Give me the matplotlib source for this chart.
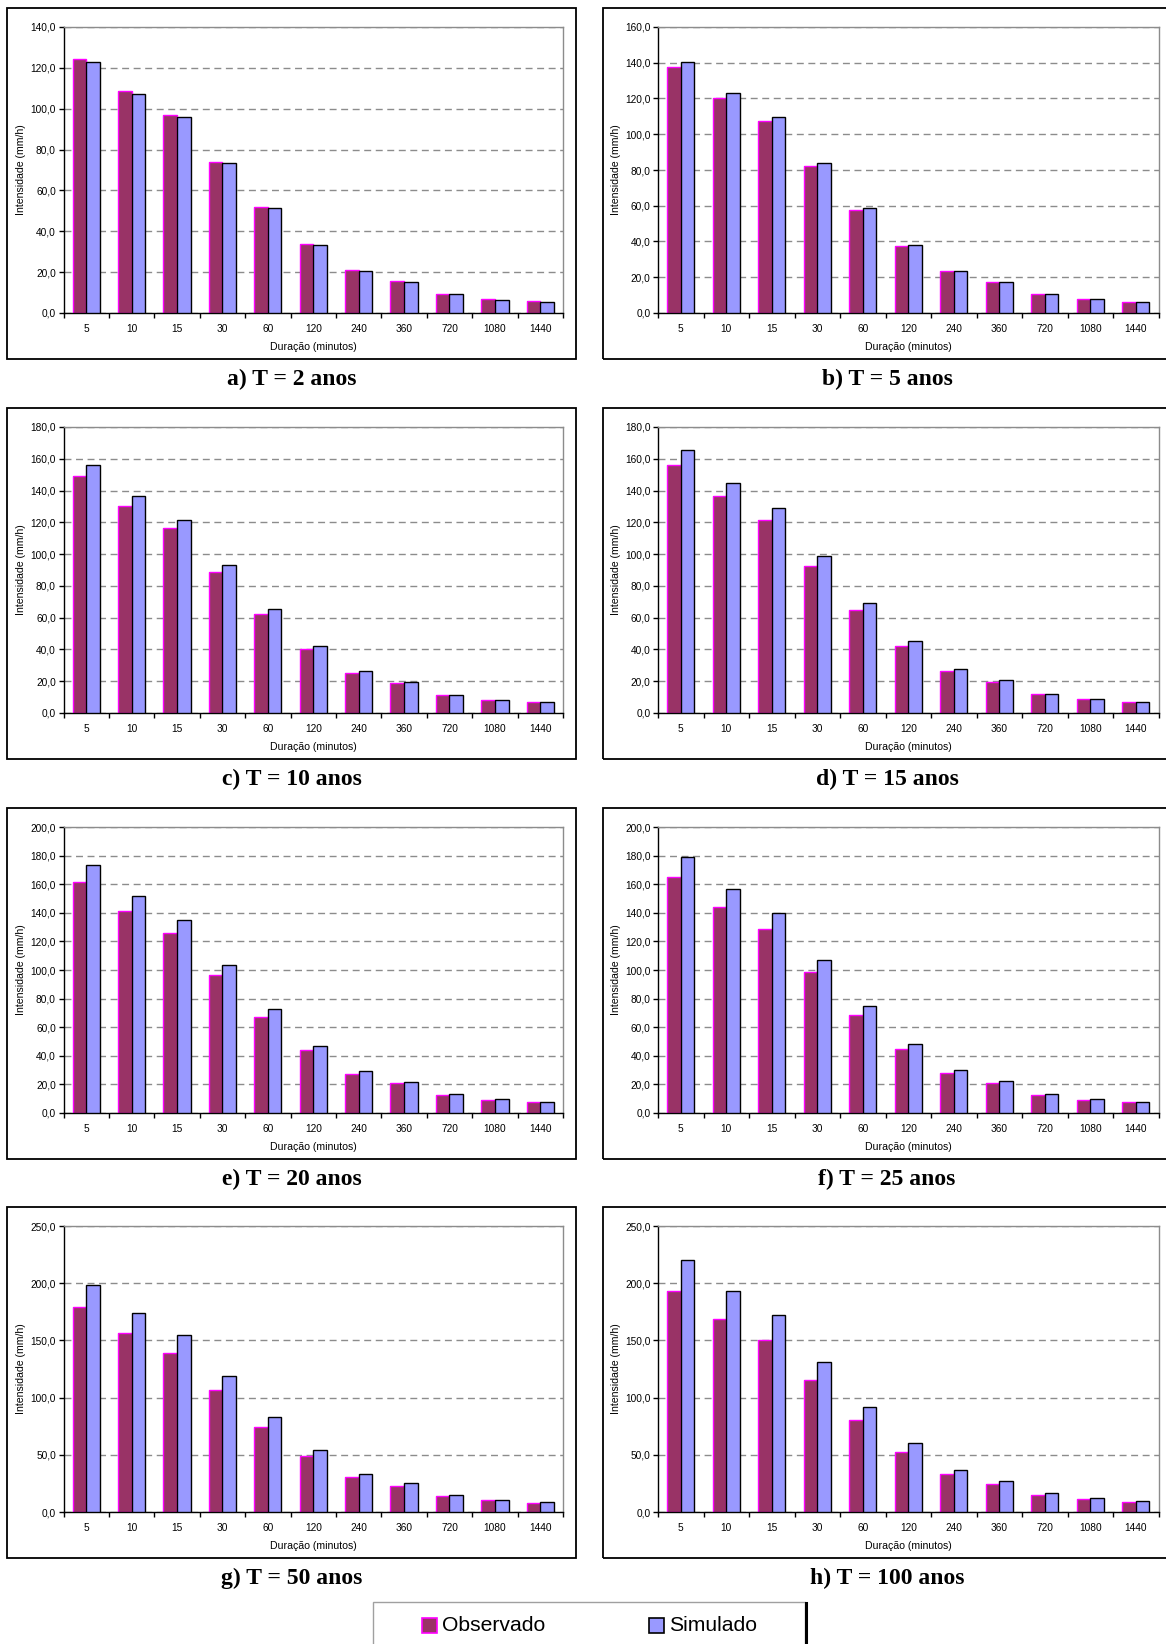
import matplotlib
matplotlib.use("Agg")
import matplotlib.pyplot as plt
from matplotlib.patches import Rectangle
from matplotlib.lines import Line2D
from matplotlib.ticker import FuncFormatter, MultipleLocator

# Intensidade-duração: observado x simulado para cada período de retorno
duracoes = ["5", "10", "15", "30", "60", "120", "240", "360", "720", "1080", "1440"]

obs_T2 = [124.5, 108.7, 96.8, 73.9, 51.9, 33.8, 21.0, 15.8, 9.5, 6.9, 5.7]
sim_T2 = [122.9, 107.4, 95.9, 73.4, 51.2, 33.3, 20.6, 15.3, 9.1, 6.5, 5.2]

obs_T5 = [137.7, 120.5, 107.3, 82.0, 57.4, 37.5, 23.4, 17.4, 10.6, 7.8, 6.3]
sim_T5 = [140.3, 122.9, 109.7, 83.9, 58.7, 38.1, 23.4, 17.4, 10.4, 7.6, 6.1]

obs_T10 = [148.9, 130.3, 116.2, 88.7, 62.3, 40.5, 25.4, 19.1, 11.5, 8.4, 6.9]
sim_T10 = [155.9, 136.6, 121.7, 93.4, 65.2, 42.2, 26.2, 19.5, 11.5, 8.4, 6.9]

obs_T15 = [156.1, 136.3, 121.4, 92.7, 64.9, 42.3, 26.4, 19.7, 11.9, 8.8, 6.9]
sim_T15 = [165.5, 145.0, 129.3, 99.0, 69.3, 45.0, 27.8, 20.5, 12.1, 8.8, 6.9]

obs_T20 = [161.6, 141.2, 125.8, 96.3, 67.4, 44.0, 27.4, 20.7, 12.6, 9.3, 7.4]
sim_T20 = [173.3, 151.4, 135.3, 103.5, 72.6, 47.2, 29.1, 21.6, 13.3, 9.5, 7.7]

obs_T25 = [165.2, 144.3, 128.8, 98.4, 68.7, 45.0, 28.1, 20.9, 12.5, 9.0, 7.7]
sim_T25 = [178.9, 156.6, 139.7, 106.7, 74.5, 48.5, 29.9, 22.3, 13.2, 9.5, 7.7]

obs_T50 = [178.9, 156.2, 139.4, 106.6, 74.3, 49.1, 30.8, 22.9, 13.9, 10.5, 8.1]
sim_T50 = [198.3, 173.6, 155.1, 118.8, 83.0, 54.0, 33.4, 25.0, 15.1, 10.7, 8.7]

obs_T100 = [193.2, 168.9, 150.3, 115.3, 80.8, 52.7, 33.0, 24.6, 15.1, 11.0, 9.0]
sim_T100 = [219.9, 192.9, 172.1, 131.5, 92.1, 60.0, 37.1, 27.5, 16.5, 12.2, 9.6]

titulos = ["a) T = 2 anos", "b) T = 5 anos", "c) T = 10 anos", "d) T = 15 anos",
           "e) T = 20 anos", "f) T = 25 anos", "g) T = 50 anos", "h) T = 100 anos"]
y_max = [140, 160, 180, 180, 200, 200, 250, 250]
y_passo = [20, 20, 20, 20, 20, 20, 50, 50]

series = [(obs_T2, sim_T2), (obs_T5, sim_T5), (obs_T10, sim_T10), (obs_T15, sim_T15),
          (obs_T20, sim_T20), (obs_T25, sim_T25), (obs_T50, sim_T50), (obs_T100, sim_T100)]

COR_OBS = "#993366"
BORDA_OBS = "#FF00FF"
COR_SIM = "#9999FF"
CINZA = "#8C8C8C"

W, H = 1166, 1644
fig = plt.figure(figsize=(W / 100, H / 100), dpi=100)
fig.patch.set_facecolor("white")
plt.rcParams["font.family"] = ["Liberation Sans", "DejaVu Sans"]


def caixa(x0, y0, x1, y1):
    # pixels (origem no topo) -> coordenadas da figura
    return [x0 / W, 1 - y1 / H, (x1 - x0) / W, (y1 - y0) / H]


def fmt_virgula(v, pos):
    return f"{v:.1f}".replace(".", ",")


col_x = [(63.5, 563), (658, 1158.5)]
col_frame = [(7, 576), (603, 1180)]
row_top = [27, 427, 827, 1226]
altura = 286

for k, (obs, sim) in enumerate(series):
    linha, col = divmod(k, 2)
    x0, x1 = col_x[col]
    y0 = row_top[linha]
    y1 = y0 + altura

    # moldura do gráfico
    fx0, fx1 = col_frame[col]
    fig.patches.append(Rectangle((fx0 / W, 1 - (y1 + 46) / H), (fx1 - fx0) / W,
                                 (altura + 65) / H, transform=fig.transFigure,
                                 fill=False, edgecolor="black", lw=1.3, zorder=0))

    ax = fig.add_axes(caixa(x0, y0, x1, y1))
    pos = list(range(len(duracoes)))
    ax.bar([p - 0.15 for p in pos], obs, width=0.3, color=COR_OBS,
           edgecolor=BORDA_OBS, linewidth=1.0, zorder=2)
    ax.bar([p + 0.15 for p in pos], sim, width=0.3, color=COR_SIM,
           edgecolor="black", linewidth=1.0, zorder=3)

    ax.set_xlim(-0.5, len(duracoes) - 0.5)
    ax.set_ylim(0, y_max[k])
    ax.yaxis.set_major_locator(MultipleLocator(y_passo[k]))
    ax.yaxis.set_major_formatter(FuncFormatter(fmt_virgula))
    ax.grid(axis="y", color=CINZA, linestyle=(0, (5, 3.3)), linewidth=1.0, zorder=1)

    ax.set_xticks(pos)
    ax.set_xticklabels(duracoes)
    ax.set_xticks([p - 0.5 for p in range(len(duracoes) + 1)], minor=True)
    ax.tick_params(axis="x", which="major", length=0, pad=8, labelsize=7.3)
    ax.tick_params(axis="x", which="minor", length=3.5, width=1, direction="out")
    ax.tick_params(axis="y", length=3.5, width=1, direction="out", pad=2, labelsize=7.3)

    for lado in ("left", "bottom"):
        ax.spines[lado].set_color("black")
        ax.spines[lado].set_linewidth(1.0)
    for lado in ("top", "right"):
        ax.spines[lado].set_color(CINZA)
        ax.spines[lado].set_linewidth(1.0)

    ax.set_xlabel("Duração (minutos)", fontsize=7.6)
    ax.xaxis.label.set_va("center")
    ax.xaxis.set_label_coords(0.5, -34 / altura)
    ax.set_ylabel("Intensidade (mm/h)", fontsize=7.6)
    ax.yaxis.label.set_va("center")
    ax.yaxis.set_label_coords(-42 / (x1 - x0), 0.5)

    cx = (fx0 + min(fx1, 1171)) / 2
    fig.text(cx / W, 1 - (y1 + 66) / H, titulos[k], ha="center", va="center",
             fontsize=17, fontweight="bold", family=["Liberation Serif", "DejaVu Serif"])

# legenda comum
fig.patches.append(Rectangle((373 / W, 1 - 1660 / H), (805 - 373) / W, 58 / H,
                             transform=fig.transFigure, facecolor="white",
                             edgecolor="#A0A0A0", lw=1.0, zorder=0))
fig.lines.append(Line2D([806 / W, 806 / W], [1 - 1603 / H, 0], transform=fig.transFigure,
                        color="black", lw=2.2))
itens = [("Observado", COR_OBS, BORDA_OBS, 422), ("Simulado", COR_SIM, "black", 649)]
for nome, cor, borda, px in itens:
    fig.patches.append(Rectangle((px / W, 1 - 1633 / H), 15 / W, 15 / H,
                                 transform=fig.transFigure, facecolor=cor,
                                 edgecolor=borda, lw=1.2))
    fig.text((px + 20) / W, 1 - 1625.5 / H, nome, ha="left", va="center", fontsize=15.2)

fig.savefig("out.png", dpi=100)
